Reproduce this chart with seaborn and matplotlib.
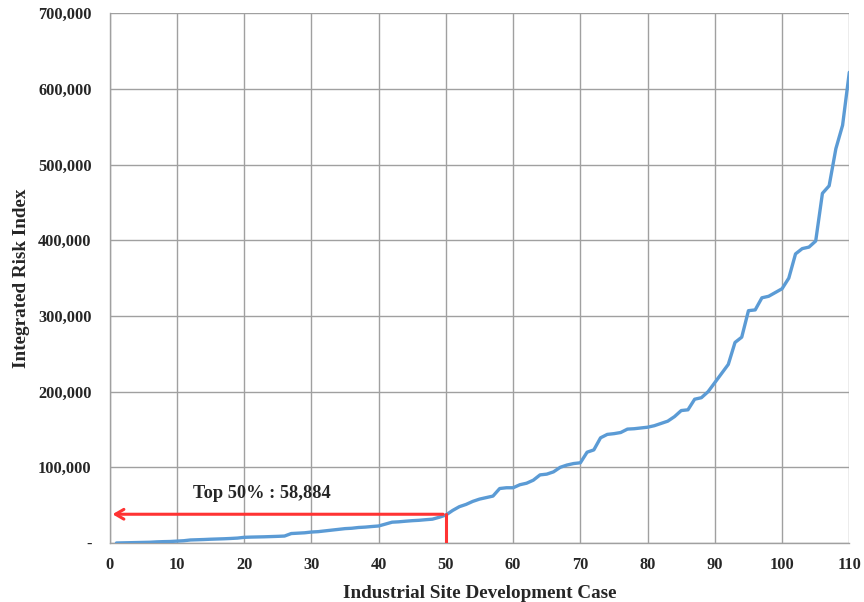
import matplotlib
matplotlib.use("Agg")
import matplotlib.pyplot as plt
import seaborn as sns
import pandas as pd
from matplotlib.ticker import FuncFormatter

cases = list(range(1, 111))
risk_index = [
    0, 200, 400, 600, 800, 1000, 1500, 1800, 2000, 2500,
    3000, 4000, 4300, 4600, 5000, 5300, 5600, 6000, 6500, 7500,
    7800, 8000, 8200, 8500, 8800, 9200, 12500, 13000, 13500, 14500,
    15000, 16000, 17000, 18000, 19000, 19500, 20500, 21000, 21800, 22500,
    25000, 27500, 28000, 28800, 29500, 30000, 30800, 31500, 34000, 37000,
    43000, 48000, 51000, 55000, 58000, 60000, 62000, 72000, 73000, 73000,
    77000, 79000, 83000, 90000, 91000, 94000, 100000, 103000, 105000, 106000,
    120000, 123000, 139000, 143500, 144500, 146000, 150500, 151000, 152000, 153000,
    155000, 158000, 161000, 167000, 175000, 176000, 190000, 192000, 200000, 212000,
    224000, 236000, 265000, 272000, 307000, 308000, 324000, 326000, 331000, 336000,
    350000, 382000, 389000, 391000, 399000, 462000, 472000, 521000, 552000, 622000,
]
x_ticks = list(range(0, 111, 10))
y_ticks = list(range(0, 700001, 100000))
marker_case = 50
marker_value = 38000
annotation_text = "Top 50% : 58,884"

df = pd.DataFrame({"case": cases, "risk": risk_index})

sns.set_style("white")
plt.rcParams["font.family"] = ["Liberation Serif", "DejaVu Serif"]

fig = plt.figure(figsize=(8.64, 6.02), dpi=100)
ax = fig.add_axes([0.127, 0.098, 0.856, 0.880])

sns.lineplot(data=df, x="case", y="risk", ax=ax, color="#5B9BD5", linewidth=2.4, zorder=3)

ax.set_xlim(0, 110)
ax.set_ylim(0, 700000)
ax.set_xticks(x_ticks)
ax.set_yticks(y_ticks)
ax.yaxis.set_major_formatter(FuncFormatter(lambda v, p: "-" if v == 0 else f"{int(v):,}"))
ax.grid(True, color="#A0A0A0", linewidth=1.0)
ax.set_axisbelow(True)
for side in ["top", "right"]:
    ax.spines[side].set_visible(False)
for side in ["left", "bottom"]:
    ax.spines[side].set_color("#A0A0A0")
    ax.spines[side].set_linewidth(1.0)
ax.tick_params(axis="y", length=0, labelsize=11.8, pad=13)
ax.tick_params(axis="x", length=0, labelsize=11.8, pad=10)
for lab in ax.get_xticklabels() + ax.get_yticklabels():
    lab.set_fontweight("bold")

ax.set_xlabel("Industrial Site Development Case", fontsize=13.8, fontweight="bold", labelpad=9)
ax.set_ylabel("Integrated Risk Index", fontsize=13.8, fontweight="bold", labelpad=6)

# red marker lines
ax.plot([marker_case, marker_case], [0, marker_value], color="#FF3333", linewidth=2.2, zorder=4)
ax.annotate("", xy=(0, marker_value), xytext=(marker_case, marker_value),
            arrowprops=dict(arrowstyle="->,head_length=0.6,head_width=0.35", color="#FF3333", lw=2.2),
            zorder=4)
ax.text(22.7, 66000, annotation_text, fontsize=13.2, fontweight="bold", ha="center", va="center")

fig.savefig("out.png", dpi=100)
